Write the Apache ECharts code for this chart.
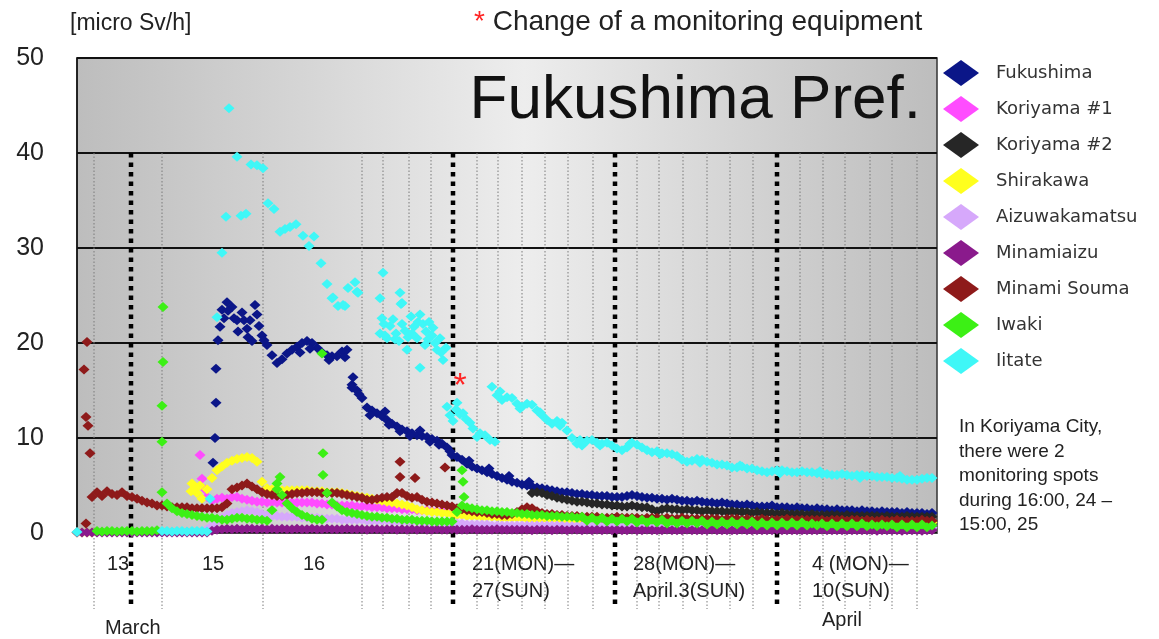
<!DOCTYPE html>
<html>
<head>
<meta charset="utf-8">
<script src="https://cdn.jsdelivr.net/npm/echarts@6/dist/echarts.min.js"></script>
<style>
  html, body { margin: 0; padding: 0; background: #fff; }
  #chart { width: 1159px; height: 639px; }
</style>
</head>
<body>
<div id="chart"></div>
<script>
// x axis = measurement slot index (the original chart is not linear in time)
const xMin = 0, xMax = 172;

// tick labels under the axis
const xLabelPos = [6, 25, 45.2, 79, 111.2, 147];
const xLabelText = ['13', '15', '16', '21(MON)\u2014\n27(SUN)', '28(MON)\u2014\nApril.3(SUN)', '4 (MON)\u2014\n10(SUN)'];
const monthPos = [5.6, 149];
const monthText = ['March', 'April'];

// day separators (thin dotted) and week separators (thick dotted)
const dayLines = [3.4, 17, 37.2, 57, 61.2, 66.4, 70.8, 80, 84.2, 89, 93.6, 98.2, 103.2, 112, 116.4, 121.2, 126, 130.6, 135.2, 144.6, 149.2, 153.6, 158.6, 163, 168];
const weekLines = [10.8, 75.2, 107.6, 140];
const sepTop = 40, sepBottom = -8;

// red asterisk: change of monitoring equipment
const equipmentChange = [76.6, 16.2];

const names = ['Fukushima', 'Koriyama #1', 'Koriyama #2', 'Shirakawa', 'Aizuwakamatsu', 'Minamiaizu', 'Minami Souma', 'Iwaki', 'Iitate'];
const colors = ['#0b1688', '#ff4cff', '#262626', '#ffff1e', '#d6a8fb', '#8a1a8c', '#8e1a1a', '#3cf015', '#3ff7f7'];

// ---- Fukushima
const fukushimaStart = 29;
const fukushimaVals = [
  23.5,24.3,23.8,22.4,23.2,21.5,20.2,23.0,20.8,19.8,
  18.7,17.9,18.3,18.9,19.3,19.6,20.0,20.2,20.0,19.5,
  19.0,18.7,18.6,18.6,19.1,19.3,15.6,15.0,14.2,13.2,
  12.9,12.6,12.3,11.9,11.5,11.2,10.9,10.7,10.5,10.3,
  10.2,10.1,9.9,9.7,9.4,9.0,8.2,8.0,7.7,7.3,
  7.0,6.8,6.6,6.4,6.2,6.0,5.8,5.6,5.4,5.3,
  5.1,5.0,4.9,4.8,4.7,4.6,4.5,4.4,4.3,4.3,
  4.2,4.1,4.1,4.0,4.0,3.9,3.9,3.9,3.8,3.8,
  3.8,3.9,4.0,3.9,3.8,3.7,3.7,3.6,3.6,3.5,
  3.6,3.5,3.4,3.4,3.3,3.4,3.3,3.2,3.2,3.1,
  3.2,3.1,3.0,3.0,2.9,3.0,2.9,2.8,2.8,2.8,
  2.9,2.7,2.7,2.7,2.6,2.7,2.6,2.6,2.5,2.6,
  2.5,2.5,2.4,2.5,2.4,2.4,2.4,2.3,2.4,2.3,
  2.3,2.2,2.3,2.2,2.2,2.2,2.1,2.2,2.1,2.1,
  2.1,2.0,2.1
];
const fukushimaExtra = [
  [27.2,7.4],[27.6,10.0],[27.8,13.7],[27.8,17.3],[28.2,20.3],[28.6,21.7],[29.4,22.6],[30.2,23.4],
  [31.4,22.6],[32.2,21.2],[33.4,22.4],[34.2,20.6],[34.6,22.4],[35.6,24.0],[36.4,21.8],[37.4,20.3],
  [44.6,19.0],[46.6,19.4],[50.4,18.2],[53.6,18.5],[55.2,16.4],[55.0,15.3],[56.4,14.6],[58.6,12.4],
  [61.6,12.8],[64.6,10.7],[68.6,10.8],[72.4,9.3],[62.4,11.4],[66.6,10.2],[70.6,9.6],[74.6,8.6],
  [78.4,7.6],[82.4,6.8],[86.4,6.0],[90.4,5.4]
];

// ---- Koriyama #1
const koriyama1Start = 26;
const koriyama1Vals = [
  3.8,3.4,3.6,3.7,3.6,3.8,3.8,3.6,3.5,3.4,
  3.3,3.3,3.2,3.2,3.2,3.2,3.2,3.2,3.2,3.2,
  3.2,3.2,3.1,3.1,3.0,3.0,2.9,2.9,2.9,2.9,
  2.8,2.8,2.8,2.7,2.7,2.7,2.6,2.6,2.6,2.5,
  2.5,2.5,2.4,2.4,2.4,2.3,2.3,2.3,2.2,2.2,
  2.2,2.1,2.1,2.1,2.0,2.0,2.0,2.0,1.9,1.9,
  1.9,1.9,1.9,1.8,1.8,1.8,1.8,1.8
];
const koriyama1Extra = [[24.6,8.2],[25,5.7],[25.6,4.6]];

// ---- Koriyama #2
const koriyama2Start = 91;
const koriyama2Vals = [
  4.2,4.3,4.2,4.0,3.9,3.7,3.6,3.5,3.4,3.3,
  3.3,3.2,3.1,3.1,3.0,3.0,2.9,2.9,2.8,2.8,
  2.9,2.8,2.7,2.7,2.5,2.3,2.5,2.6,2.5,2.5,
  2.4,2.5,2.4,2.4,2.3,2.4,2.3,2.3,2.3,2.2,
  2.3,2.2,2.2,2.2,2.1,2.2,2.1,2.1,2.1,2.0,
  2.1,2.0,2.0,2.0,2.0,1.9,2.0,1.9,1.9,1.9,
  1.9,1.9,1.8,1.9,1.8,1.8,1.8,1.8,1.8,1.8,
  1.7,1.8,1.7,1.7,1.7,1.8,1.7,1.7,1.7,1.7,
  1.7
];

// ---- Shirakawa
const shirakawaStart = 23;
const shirakawaVals = [
  5.2,4.2,3.6,4.6,5.8,6.6,7.0,7.4,7.6,7.8,
  7.9,8.0,7.9,7.5,5.4,4.7,4.6,4.6,4.5,4.5,
  4.5,4.5,4.5,4.5,4.4,4.4,4.4,4.3,4.3,4.3,
  4.2,4.1,4.0,3.9,3.8,3.7,3.6,3.5,3.4,3.3,
  3.2,3.1,3.0,2.9,2.7,2.5,2.4,2.3,2.2,2.2,
  2.1,2.1,2.0,
  1.9,1.9,1.8,1.8,1.8,1.7,1.7,1.7,1.7,1.6,
  1.6,1.6,1.6,1.6,1.5,1.5,1.5,1.5,1.5,1.5,
  1.5,1.4,1.4,1.4,1.4,1.4,1.4,1.4,1.4,1.4,
  1.4,1.4,1.4,1.4,1.3,1.3,1.3,1.3,1.3,1.3,
  1.3,1.3,1.3,1.3,1.3,1.3,1.3,1.3,1.3,1.3,
  1.3,1.3,1.3,1.3,1.2,1.2,1.2,1.2,1.2,1.2,
  1.2,1.2,1.2,1.2,1.2,1.2,1.2,1.2,1.2,1.2,
  1.2,1.2,1.2,1.2,1.2,1.2,1.2,1.2,1.2,1.2,
  1.2,1.2,1.2,1.2,1.1,1.1,1.1,1.1,1.1,1.1,
  1.1,1.1,1.1,1.1,1.1,1.1
];
const shirakawaExtra = [[0,0.05],[1,0.05],[2,0.05],[3,0.05],[22.8,4.4],[23.4,4.6],[24.6,5.0]];

// ---- Aizuwakamatsu
const aizuStart = 26;
const aizuVals = [
  0.4,0.8,1.2,1.6,1.9,2.1,2.2,2.3,2.4,2.3,
  2.2,2.0,1.9,1.8,1.8,1.7,1.7,1.7,1.7,1.6,
  1.6,1.6,1.6,1.5,1.5,1.5,1.5,1.4,1.4,1.4,
  1.4,1.4,1.3,1.3,1.3,1.3,1.3,1.2,1.2,1.2,
  1.2,1.2,1.2,1.1,1.1,1.1,1.1,1.1,1.0,1.0,
  1.0,1.0,0.9,0.9,0.9,0.9,0.9,0.8,0.8,0.8,
  0.8,0.8,0.8,0.8,0.8,0.8,0.8,0.8,0.8,0.8,
  0.8,0.8,0.75,0.75,0.75,0.75,0.75,0.75,0.75,0.75,
  0.75,0.7,0.7,0.7,0.7,0.7,0.7,0.7,0.7,0.7,
  0.7,0.7,0.7,0.7,0.7,0.65,0.65,0.65,0.65,0.65,
  0.65,0.65,0.65,0.65,0.65,0.65,0.65,0.65,0.65,0.65,
  0.6,0.6,0.6,0.6,0.6,0.6,0.6,0.6,0.6,0.6,
  0.6,0.6,0.6,0.6,0.6,0.6,0.6,0.6,0.6,0.6,
  0.6,0.6,0.6,0.55,0.55,0.55,0.55,0.55,0.55,0.55,
  0.55,0.55,0.55,0.55,0.55,0.55
];

// ---- Minamiaizu
const minamiaizuStart = 0;
const minamiaizuVals = [
  0.05,0.05,0.05,0.05,0.05,0.05,0.05,0.05,0.05,0.05,
  0.05,0.05,0.05,0.05,0.05,0.05,0.05,0.05,0.05,0.05,
  0.05,0.05,0.05,0.05,0.05,0.05,0.05,
  0.25,0.35,0.4,0.45,0.4,0.45,0.4,0.45,0.45,0.4,
  0.45,0.4,0.45,0.4,0.45,0.4,0.4,0.45,0.4,0.4,
  0.45,0.4,0.4,0.45,0.4,0.4,0.4,0.45,0.4,0.4,
  0.4,0.35,0.4,0.4,0.35,0.4,0.4,0.35,0.4,0.35,
  0.4,0.35,0.4,0.35,0.35,0.4,0.35,0.35,0.4,0.35,
  0.35,0.35,0.4,0.35,0.35,0.35,0.35,0.4,0.35,0.35,
  0.35,0.35,0.35,0.35,0.3,0.35,0.35,0.35,0.3,0.35,
  0.35,0.3,0.35,0.35,0.3,0.35,0.3,0.35,0.3,0.35,
  0.3,0.35,0.3,0.3,0.35,0.3,0.3,0.35,0.3,0.3,
  0.3,0.35,0.3,0.3,0.3,0.35,0.3,0.3,0.3,0.3,
  0.35,0.3,0.3,0.3,0.3,0.3,0.35,0.3,0.3,0.3,
  0.3,0.3,0.3,0.35,0.3,0.3,0.3,0.3,0.3,0.3,
  0.3,0.3,0.35,0.3,0.3,0.3,0.3,0.3,0.3,0.3,
  0.3,0.3,0.3,0.25,0.3,0.3,0.3,0.3,0.25,0.3,
  0.3,0.3,0.25,0.3,0.3
];

// ---- Minami Souma
const soumaStart = 3;
const soumaVals = [
  3.8,4.3,3.9,4.4,4.1,4.0,4.3,3.9,3.8,3.6,
  3.4,3.2,3.1,2.9,2.9,2.8,2.7,2.7,2.7,2.7,
  2.6,2.6,2.6,2.6,2.6,2.6,2.7,3.1,4.6,4.8,
  5.0,5.2,4.9,4.6,4.3,4.1,4.0,3.9,3.9,4.0,
  4.1,4.2,4.2,4.3,4.3,4.3,4.2,4.2,4.2,4.2,
  4.1,4.0,3.9,3.8,3.7,3.5,3.5,3.6,3.7,3.8,
  3.8,4.2,4.2,3.9,3.7,3.8,3.5,3.3,3.2,3.1,
  3.0,2.9,2.8,2.6,2.5,2.4,2.3,2.2,2.2,2.1,
  2.0,2.0,1.9,1.9,2.0,2.2,2.5,2.7,2.6,2.3,
  2.1,2.0,2.0,1.9,1.9,1.8,1.8,1.8,1.7,1.7,
  1.7,1.7,1.6,
  1.6,1.6,1.7,1.6,1.6,1.6,1.6,1.5,1.6,1.6,
  1.6,1.5,1.6,1.5,1.5,1.6,1.5,1.5,1.5,1.5,
  1.5,1.5,1.5,1.4,1.5,1.5,1.5,1.4,1.5,1.4,
  1.4,1.5,1.4,1.4,1.4,1.4,1.5,1.4,1.4,1.4,
  1.4,1.4,1.4,1.4,1.3,1.4,1.4,1.4,1.3,1.4,
  1.4,1.3,1.4,1.3,1.3,1.4,1.3,1.3,1.4,1.3,
  1.3,1.3,1.3,1.4,1.3,1.3
];
const soumaExtra = [[1.4,17.2],[2,20.1],[1.8,12.2],[2.2,11.3],[2.6,8.4],[1.8,1.0],[64.6,7.5],[64.6,5.9],[67.6,5.8],[73.6,6.9]];

// ---- Iwaki
const iwakiStart = 4;
const iwakiVals = [
  0.2,0.15,0.2,0.2,0.15,0.2,0.2,0.2,0.15,0.2,0.2,0.2,0.3,
  4.3,3.1,2.6,2.3,2.1,2.0,1.9,1.8,1.7,1.6,
  1.6,1.5,1.4,1.4,1.5,1.6,1.6,1.5,1.5,1.4,
  1.4,1.3,2.4,5.2,4.0,3.1,2.6,2.2,1.9,1.7,
  1.5,1.4,1.4,4.2,3.2,2.8,2.4,2.2,2.1,2.0,
  1.9,1.8,1.7,1.7,1.6,1.6,1.5,1.5,1.4,1.4,
  1.4,1.3,1.3,1.3,1.2,1.2,1.2,1.2,1.2,2.2,
  2.9,2.7,2.6,2.5,2.4,2.4,2.3,2.3,2.2,2.2,
  2.1,2.1,2.0,2.0,1.9,1.9,1.9,1.8,1.8,1.8,
  1.7,1.7,1.7,1.6,
  1.7,1.3,1.6,1.3,1.6,1.2,1.5,1.2,1.5,1.2,
  1.5,1.1,1.4,1.1,1.4,1.1,1.4,1.0,1.3,1.0,
  1.3,1.0,1.3,1.0,1.3,0.9,1.2,0.9,1.2,0.9,
  1.2,0.9,1.2,0.9,1.2,0.8,1.1,0.8,1.1,0.8,
  1.1,0.8,1.1,0.8,1.1,0.8,1.0,0.8,1.0,0.7,
  1.0,0.7,1.0,0.7,1.0,0.7,1.0,0.7,0.9,0.7,
  0.9,0.7,0.9,0.6,0.9,0.6,0.9,0.6,0.9,0.6,
  0.8
];
const iwakiExtra = [[17.2,23.8],[17.2,18.0],[17,13.4],[17,9.6],[40.6,5.9],[40,4.6],[49,18.9],[49.2,8.4],[49.2,6.1],[77,6.6],[77.2,5.4],[77.4,3.8]];

// ---- Iitate
const iitateStart = 83;
const iitateVals = [
  15.4,14.5,14.0,14.3,14.2,13.6,13.3,13.6,13.5,12.9,
  12.4,11.9,11.5,11.8,11.6,10.8,10.0,9.4,9.2,9.7,
  9.8,9.5,9.4,9.5,9.2,8.9,8.7,9.0,9.5,9.3,
  9.0,8.7,8.5,8.6,8.4,8.4,8.3,8.1,7.7,7.5,
  7.6,7.8,7.7,7.5,7.4,7.2,7.2,7.1,6.9,6.9,
  7.0,6.8,6.8,6.6,6.5,6.4,6.5,6.6,6.6,6.5,
  6.4,6.4,6.5,6.4,6.4,6.3,6.2,6.2,6.1,6.1,
  6.2,6.1,6.0,6.1,6.1,6.0,6.0,5.9,5.9,5.9,
  5.8,5.8,5.7,5.6,5.6,5.6,5.7,5.8,5.8
];
const iitateExtra = [
  [0,0.1],[17,0.2],[18,0.2],[19,0.15],[20,0.2],[21,0.2],[22,0.15],[23,0.2],[24,0.2],[25,0.2],[26,0.15],
  [26.6,3.6],[28,22.7],
  [29,29.5],[29.8,33.3],[30.4,44.7],[32,39.6],[32.8,33.4],[33.8,33.6],[34.8,38.8],[36,38.7],[37.2,38.4],
  [38.2,34.7],[39.4,34.1],[40.6,31.7],[41.6,32.0],[42.6,32.2],[43.8,32.5],[45.2,31.3],[46.4,30.2],[47.4,31.2],
  [48.8,28.4],[50,26.2],[51,24.7],[51.2,24.8],[52.2,23.9],[53.2,24.0],[53.6,23.9],[54.2,25.8],[55.6,26.4],
  [56,25.4],[56.2,25.3],[60.6,24.7],[61.2,27.4],[61,22.6],[64.6,25.3],[65,24.2],[64.8,24.1],
  [60.6,21.0],[61.4,22.0],[62,20.5],[62.6,21.8],[63.2,22.5],[63.8,21.0],[64.4,20.2],[65,22.0],[65.6,21.3],
  [66.2,20.6],[66.8,22.8],[67.4,21.7],[68,20.5],[68.6,23.0],[69.2,22.0],[69.8,21.2],[70.4,22.2],[71,20.8],
  [71.6,20.0],[72,19.3],[72.6,20.5],[73.2,18.2],[73.8,19.5],[68.6,17.4],[66,19.3],[69.6,19.8],[61.6,20.8],
  [63.6,20.4],[67,21.0],[68.2,22.2],[70.2,20.4],[71.2,21.6],[72.8,19.0],
  [74,13.3],[74.6,12.4],[75.2,11.8],[75.8,13.0],[76,13.7],[76.6,12.5],[77.2,12.6],[77.8,12.0],[78.6,11.6],
  [79.2,11.0],[80,10.1],[80.6,10.5],[81.6,10.3],[82.6,9.8],[83.6,9.6],
  [84.6,14.9],[88.6,13.1],[92.6,12.7],[96.6,11.3],[100.6,9.8],[104.6,9.2],[110.6,9.4],[116.6,8.3],
  [124.6,7.4],[132.6,7.1],[140.6,6.3],[148.6,6.5],[156.6,5.8],[164.6,6.0]
];

function seq(start, vals) {
  return vals.map((v, i) => [start + i, v]);
}

const seriesData = [
  seq(fukushimaStart, fukushimaVals).concat(fukushimaExtra),
  seq(koriyama1Start, koriyama1Vals).concat(koriyama1Extra),
  seq(koriyama2Start, koriyama2Vals),
  seq(shirakawaStart, shirakawaVals).concat(shirakawaExtra),
  seq(aizuStart, aizuVals),
  seq(minamiaizuStart, minamiaizuVals),
  seq(soumaStart, soumaVals).concat(soumaExtra),
  seq(iwakiStart, iwakiVals).concat(iwakiExtra),
  seq(iitateStart, iitateVals).concat(iitateExtra)
];

const FONT = '"Liberation Sans", Arial, sans-serif';
const chart = echarts.init(document.getElementById('chart'));

function sepSeries(list, style) {
  return {
    type: 'custom',
    silent: true,
    clip: false,
    data: list.map(x => [x, sepTop]),
    encode: { x: 0, y: 1 },
    renderItem: function (params, api) {
      const p1 = api.coord([api.value(0), sepTop]);
      const p2 = api.coord([api.value(0), sepBottom]);
      return { type: 'line', shape: { x1: p1[0], y1: p1[1], x2: p2[0], y2: p2[1] }, style: style };
    }
  };
}

const scatterSeries = names.map((name, i) => {
  const s = {
    name: name,
    type: 'scatter',
    symbol: 'diamond',
    symbolSize: [11, 10],
    silent: true,
    itemStyle: { color: colors[i], opacity: 1 },
    data: seriesData[i]
  };
  if (name === 'Iitate') {
    s.markPoint = {
      symbol: 'circle',
      symbolSize: 1,
      silent: true,
      itemStyle: { color: 'rgba(0,0,0,0)' },
      label: { show: true, formatter: '*', position: 'inside', color: '#ff2424', fontSize: 34, fontFamily: FONT, offset: [0, 8] },
      data: [{ coord: equipmentChange }]
    };
  }
  return s;
});

const option = {
  animation: false,
  backgroundColor: '#ffffff',
  title: [
    { text: 'Fukushima Pref.', right: 238, top: 70, padding: 0,
      textStyle: { fontSize: 62, fontWeight: 'normal', color: '#111', fontFamily: FONT } },
    { text: '[micro Sv/h]', left: 70, top: 12, padding: 0,
      textStyle: { fontSize: 23, fontWeight: 'normal', color: '#222', fontFamily: FONT } },
    { text: '{r|*} Change of a monitoring equipment', left: 474, top: 8, padding: 0,
      textStyle: { fontSize: 28, fontWeight: 'normal', color: '#222', fontFamily: FONT,
        rich: { r: { fontSize: 28, color: '#ff2424', fontFamily: FONT } } } }
  ],
  legend: {
    data: names,
    orient: 'vertical',
    left: 943, top: 60,
    padding: 0,
    icon: 'diamond',
    itemWidth: 36, itemHeight: 26, itemGap: 10,
    selectedMode: false,
    textStyle: { fontSize: 18, color: '#333', fontFamily: '"DejaVu Sans", sans-serif', padding: [0, 0, 0, 12] }
  },
  graphic: [{
    type: 'text', left: 959, top: 415, silent: true,
    style: {
      text: 'In Koriyama City,\nthere were 2\nmonitoring spots\nduring 16:00, 24 \u2013\n15:00, 25',
      fontSize: 19, fontFamily: FONT, fill: '#222', lineHeight: 24.5
    }
  }],
  grid: {
    left: 77, right: 222, top: 58, bottom: 106,
    show: true,
    backgroundColor: new echarts.graphic.LinearGradient(0, 0, 1, 0, [
      { offset: 0, color: '#bdbdbd' },
      { offset: 0.52, color: '#ededed' },
      { offset: 1, color: '#bdbdbd' }
    ]),
    borderColor: '#333', borderWidth: 1.5
  },
  xAxis: [{
    type: 'value', min: xMin, max: xMax,
    axisLine: { show: true, lineStyle: { color: '#444', width: 1 } },
    axisTick: { show: false },
    splitLine: { show: false },
    axisLabel: {
      customValues: xLabelPos,
      formatter: v => xLabelText[xLabelPos.findIndex(p => Math.abs(p - v) < 1e-6)] || '',
      align: 'left', fontSize: 20, lineHeight: 27, margin: 18, color: '#222', fontFamily: FONT
    }
  }, {
    type: 'value', min: xMin, max: xMax, position: 'bottom',
    axisLine: { show: false }, axisTick: { show: false }, splitLine: { show: false },
    axisLabel: {
      customValues: monthPos,
      formatter: v => {
        const i = monthPos.findIndex(p => Math.abs(p - v) < 1e-6);
        return i === 0 ? '{m|' + monthText[0] + '}' : '{a|' + monthText[1] + '}';
      },
      align: 'left', margin: 77, color: '#222',
      rich: {
        m: { fontSize: 20, lineHeight: 36, fontFamily: FONT, color: '#222' },
        a: { fontSize: 20, lineHeight: 20, fontFamily: FONT, color: '#222' }
      }
    }
  }],
  yAxis: {
    type: 'value', min: 0, max: 50, interval: 10,
    axisLine: { show: true, lineStyle: { color: '#111', width: 1.5 } },
    axisTick: { show: false },
    splitLine: { lineStyle: { color: '#111', width: 2 } },
    axisLabel: { fontSize: 25, color: '#222', margin: 33, fontFamily: FONT }
  },
  series: [sepSeries(dayLines, { stroke: '#7a7a7a', lineWidth: 1, lineDash: [1.5, 2] })]
    .concat(scatterSeries)
    .concat([sepSeries(weekLines, { stroke: '#000', lineWidth: 4.5, lineDash: [4.5, 5] })])
};

chart.setOption(option);
</script>
</body>
</html>
